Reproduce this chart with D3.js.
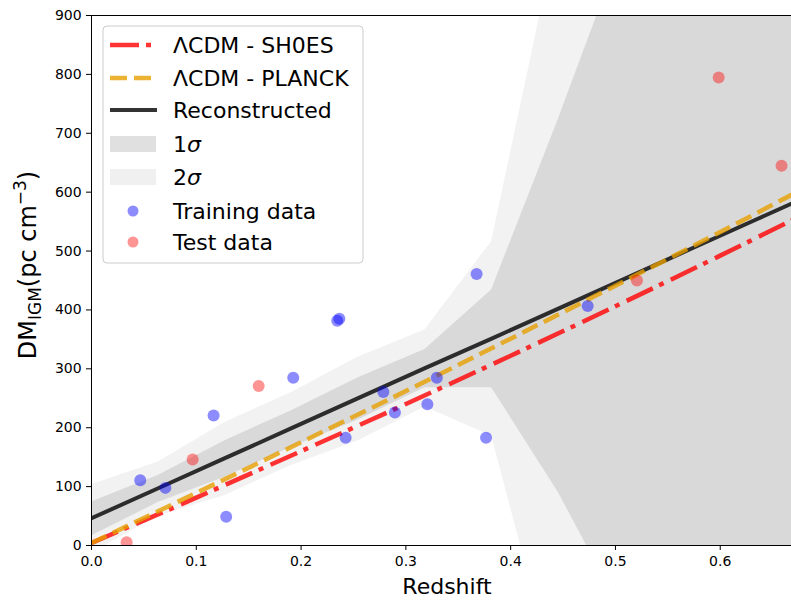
<!DOCTYPE html>
<html><head><meta charset="utf-8">
<script src="https://cdn.jsdelivr.net/npm/d3@7"></script>
<style>
html,body{margin:0;padding:0;background:#fff;}
svg{display:block;font-family:"DejaVu Sans",sans-serif;}
</style></head>
<body><svg id="chart" width="791" height="600"></svg>
<script>
// ---- data ----
const trainZ  = [0.047, 0.071, 0.117, 0.129, 0.193, 0.235, 0.237, 0.243, 0.279, 0.290, 0.321, 0.330, 0.368, 0.377, 0.474];
const trainDM = [110, 97, 220, 48, 284, 381, 384, 182, 260, 225, 239, 284, 460, 182, 406];
const testZ   = [0.034, 0.097, 0.160, 0.521, 0.599, 0.659];
const testDM  = [4.5, 145, 270, 449, 794, 644];

const zGrid   = [0, 0.0636, 0.1273, 0.1909, 0.2545, 0.3182, 0.3818, 0.4455, 0.5091, 0.5727, 0.6364, 0.7];
const recMean = [45, 96, 147, 198, 249, 300, 350, 401, 452, 503, 554, 605];
const sig1Lo  = [16, 73, 116, 167, 213, 268, 268, 90, -122, -296, -445, -594];
const sig1Hi  = [74, 119, 178, 229, 285, 333, 434, 724, 1028, 1304, 1555, 1806];
const sig2Lo  = [-13, 50, 85, 136, 178, 235, 186, -243, -697, -1096, -1445, -1794];
const sig2Hi  = [103, 142, 209, 260, 320, 366, 516, 1047, 1603, 2104, 2555, 3006];

const zModel  = [0, 0.1, 0.2, 0.3, 0.4, 0.5, 0.6, 0.7];
const sh0es   = [3, 80, 159, 239, 321, 405, 491, 579];
const planck  = [3, 88, 174, 261, 350, 440, 531, 624];

const xTicks = [0, 0.1, 0.2, 0.3, 0.4, 0.5, 0.6];
const yTicks = [0, 100, 200, 300, 400, 500, 600, 700, 800, 900];
const legendLabels = ["ΛCDM - SH0ES", "ΛCDM - PLANCK", "Reconstructed", "1σ", "2σ", "Training data", "Test data"];

// ---- layout ----
const svg = d3.select("#chart");
const L = 91, T = 15, B = 545, R = 791;
const x = d3.scaleLinear().domain([0, 0.668]).range([L, R]);
const y = d3.scaleLinear().domain([0, 900]).range([B, T]);

svg.append("defs").append("clipPath").attr("id","clip")
  .append("rect").attr("x",L).attr("y",T).attr("width",R-L+2).attr("height",B-T);
const plot = svg.append("g").attr("clip-path","url(#clip)");

const gridIdx = d3.range(zGrid.length);
const area = (lo, hi) => d3.area().x(i => x(zGrid[i])).y0(i => y(lo[i])).y1(i => y(hi[i]))(gridIdx);
plot.append("path").attr("d", area(sig2Lo, sig2Hi)).attr("fill", "#f2f2f2");
plot.append("path").attr("d", area(sig1Lo, sig1Hi)).attr("fill", "#d9d9d9");

const modelLine = vals => d3.line().curve(d3.curveMonotoneX).x((d,i)=>x(zModel[i])).y(d=>y(d))(vals);
plot.append("path").attr("d", modelLine(sh0es)).attr("fill","none")
  .attr("stroke","red").attr("stroke-opacity",0.8).attr("stroke-width",4.5).attr("stroke-dasharray","29,7,5,8");
plot.append("path").attr("d", d3.line().x(i=>x(zGrid[i])).y(i=>y(recMean[i]))(gridIdx)).attr("fill","none")
  .attr("stroke","#000").attr("stroke-opacity",0.8).attr("stroke-width",4);
plot.append("path").attr("d", modelLine(planck)).attr("fill","none")
  .attr("stroke","#e69f00").attr("stroke-opacity",0.8).attr("stroke-width",4.5).attr("stroke-dasharray","17,7");

plot.selectAll("circle.train").data(trainZ).enter().append("circle")
  .attr("cx",(d)=>x(d)).attr("cy",(d,i)=>y(trainDM[i])).attr("r",6)
  .attr("fill","blue").attr("fill-opacity",0.45);
plot.selectAll("circle.test").data(testZ).enter().append("circle")
  .attr("cx",(d)=>x(d)).attr("cy",(d,i)=>y(testDM[i])).attr("r",6)
  .attr("fill","red").attr("fill-opacity",0.42);

// ---- axes ----
const xAxis = svg.append("g").attr("transform",`translate(0,${B})`)
  .call(d3.axisBottom(x).tickValues(xTicks).tickFormat(d3.format(".1f")).tickSize(5).tickSizeOuter(0));
const yAxis = svg.append("g").attr("transform",`translate(${L},0)`)
  .call(d3.axisLeft(y).tickValues(yTicks).tickSize(5).tickSizeOuter(0));
[xAxis,yAxis].forEach(g=>{
  g.selectAll("text").attr("font-size",14).attr("font-family","DejaVu Sans").attr("fill","#000");
  g.selectAll("line").attr("stroke","#000");
  g.select(".domain").remove();
});
xAxis.selectAll("text").attr("dy","0.9em");
yAxis.selectAll("text").attr("dx","-0.1em");
// spines
svg.append("rect").attr("x",L+0.5).attr("y",T+0.5).attr("width",R-L+5).attr("height",B-T)
  .attr("fill","none").attr("stroke","#000").attr("stroke-width",1);

// labels
svg.append("text").attr("x",(L+R)/2+6).attr("y",594).attr("text-anchor","middle")
  .attr("font-size",22).text("Redshift");
const yl = svg.append("text").attr("transform","translate(36,265) rotate(-90)").attr("text-anchor","middle").attr("font-size",24);
yl.append("tspan").text("DM");
yl.append("tspan").attr("font-size",17).attr("dy",5).text("IGM");
yl.append("tspan").attr("dy",-5).text("(pc cm");
yl.append("tspan").attr("font-size",17).attr("dy",-10).text("−3");
yl.append("tspan").attr("dy",10).text(")");

// ---- legend ----
const lg = svg.append("g");
lg.append("rect").attr("x",103).attr("y",26).attr("width",260).attr("height",237).attr("rx",4)
  .attr("fill","#fff").attr("fill-opacity",0.8).attr("stroke","#cccccc").attr("stroke-width",1);
const rows = [45, 78, 110, 144, 177, 211, 242];
const hx0 = 110, hx1 = 157, tx = 173;
lg.append("line").attr("x1",hx0).attr("x2",hx1).attr("y1",rows[0]).attr("y2",rows[0])
  .attr("stroke","red").attr("stroke-opacity",0.8).attr("stroke-width",4.5).attr("stroke-dasharray","29,7,5,8");
lg.append("line").attr("x1",hx0).attr("x2",hx1).attr("y1",rows[1]).attr("y2",rows[1])
  .attr("stroke","#e69f00").attr("stroke-opacity",0.8).attr("stroke-width",4.5).attr("stroke-dasharray","17,7");
lg.append("line").attr("x1",hx0).attr("x2",hx1).attr("y1",rows[2]).attr("y2",rows[2])
  .attr("stroke","#000").attr("stroke-opacity",0.8).attr("stroke-width",4);
lg.append("rect").attr("x",hx0).attr("y",rows[3]-8).attr("width",hx1-hx0-1).attr("height",16).attr("fill","#e0e0e0");
lg.append("rect").attr("x",hx0).attr("y",rows[4]-8).attr("width",hx1-hx0-1).attr("height",16).attr("fill","#f0f0f0");
lg.append("circle").attr("cx",133).attr("cy",rows[5]).attr("r",5.5).attr("fill","blue").attr("fill-opacity",0.45);
lg.append("circle").attr("cx",133).attr("cy",rows[6]).attr("r",5.5).attr("fill","red").attr("fill-opacity",0.42);
legendLabels.forEach((t,i)=>{
  const el = lg.append("text").attr("x",tx).attr("y",rows[i]+8).attr("font-size",22).attr("fill","#000");
  if (t.endsWith("σ")) {
    el.append("tspan").text(t.slice(0,-1));
    el.append("tspan").attr("font-style","italic").text("σ");
  } else el.text(t);
});
</script></body></html>
